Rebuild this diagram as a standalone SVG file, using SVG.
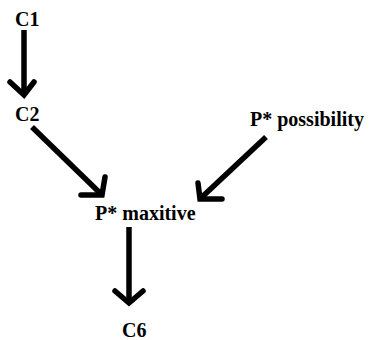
<svg xmlns="http://www.w3.org/2000/svg" width="369" height="340" viewBox="0 0 369 340">
<style>
.lbl{font-family:"Liberation Serif","Times New Roman",serif;font-size:20px;font-weight:bold;fill:#000}
.ln{stroke:#000;stroke-width:5.5;fill:none;stroke-linecap:butt}
.hd{stroke:#000;stroke-width:5.5;fill:none;stroke-linecap:round;stroke-linejoin:miter}
</style>
<rect width="369" height="340" fill="#fff"/>
<g id="C1"><text class="lbl" x="15" y="26">C1</text></g>
<g id="C2"><text class="lbl" x="15" y="121">C2</text></g>
<g id="Pposs"><text class="lbl" x="250" y="126">P* possibility</text></g>
<g id="Pmax"><text class="lbl" x="95" y="220">P* maxitive</text></g>
<g id="C6"><text class="lbl" x="122" y="337">C6</text></g>
<g id="connectors">
<line class="ln" x1="24" y1="30" x2="24" y2="93"/>
<polyline class="hd" points="10,82 24,95 34,82"/>
<line class="ln" x1="32" y1="127" x2="100" y2="193"/>
<polyline class="hd" points="81,195 102,195 105,177"/>
<line class="ln" x1="266" y1="137" x2="202" y2="197"/>
<polyline class="hd" points="198,183 200,199 222,199"/>
<line class="ln" x1="129" y1="227" x2="129" y2="301"/>
<polyline class="hd" points="115,291 129,303 143,291"/>
</g>
</svg>
